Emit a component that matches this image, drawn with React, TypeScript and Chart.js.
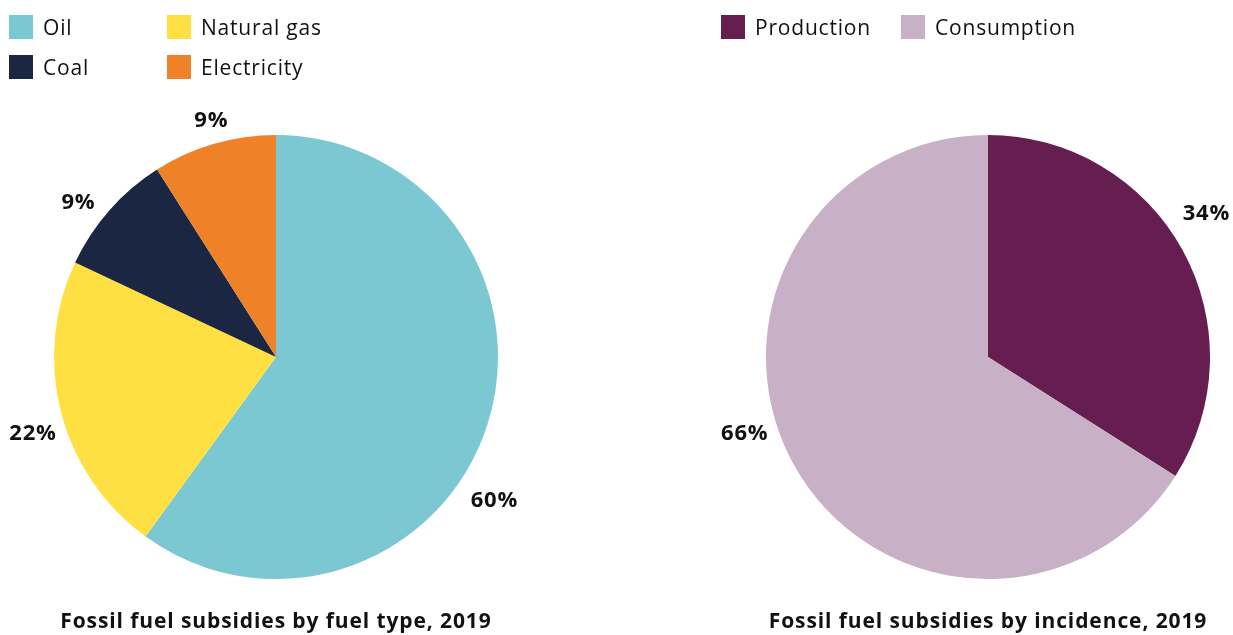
import React, { useEffect, useRef } from "react";
import { Chart, registerables } from "chart.js";

Chart.register(...registerables);

const fuelLabels = ["Oil", "Natural gas", "Coal", "Electricity"];
const fuelValues = [60, 22, 9, 9];
const fuelColors = ["#7BC8D2", "#FFE042", "#1A2642", "#EF8229"];

const incidenceLabels = ["Production", "Consumption"];
const incidenceValues = [34, 66];
const incidenceColors = ["#661D50", "#C8B1C6"];

const fuelTitle = "Fossil fuel subsidies by fuel type, 2019";
const incidenceTitle = "Fossil fuel subsidies by incidence, 2019";

const FONT = "'Open Sans', Lato, sans-serif";

// label placement: angle offset (deg) from slice mid-angle, radius factor
const fuelLabelPlacement = [
  { dAngle: 15.4, rFactor: 1.176 },
  { dAngle: -3.2, rFactor: 1.15 },
  { dAngle: -3.5, rFactor: 1.13 },
  { dAngle: 0.8, rFactor: 1.105 },
];
const incidenceLabelPlacement = [
  { dAngle: -4.6, rFactor: 1.176 },
  { dAngle: 11.4, rFactor: 1.15 },
];

const outsideLabels = {
  id: "outsideLabels",
  afterDatasetsDraw(chart: any, _args: any, opts: any) {
    const ctx = chart.ctx;
    const meta = chart.getDatasetMeta(0);
    const data = chart.data.datasets[0].data as number[];
    ctx.save();
    ctx.font = `bold 22px ${FONT}`;
    try {
      (ctx as any).letterSpacing = "0.8px";
    } catch (e) {}
    ctx.fillStyle = "#111111";
    ctx.textAlign = "center";
    ctx.textBaseline = "middle";
    meta.data.forEach((arc: any, i: number) => {
      const p = arc.getProps(["x", "y", "startAngle", "endAngle", "outerRadius"], true);
      const place = (opts.placement || [])[i] || { dAngle: 0, rFactor: 1.15 };
      const mid = (p.startAngle + p.endAngle) / 2 + (place.dAngle * Math.PI) / 180;
      const r = p.outerRadius * place.rFactor;
      const x = p.x + Math.cos(mid) * r;
      const y = p.y + Math.sin(mid) * r;
      ctx.fillText(`${data[i]}%`, x + 0.4, y);
    });
    ctx.restore();
  },
};

function PieCanvas(props: {
  labels: string[];
  values: number[];
  colors: string[];
  placement: any[];
  padding: { left: number; right: number; top: number; bottom: number };
}) {
  const ref = useRef<HTMLCanvasElement>(null);
  useEffect(() => {
    if (!ref.current) return;
    const chart = new Chart(ref.current, {
      type: "pie",
      data: {
        labels: props.labels,
        datasets: [
          {
            data: props.values,
            backgroundColor: props.colors,
            borderWidth: 0,
          },
        ],
      },
      options: {
        animation: false,
        responsive: false,
        layout: { padding: props.padding },
        plugins: {
          legend: { display: false },
          tooltip: { enabled: false },
          outsideLabels: { placement: props.placement },
        } as any,
      },
      plugins: [outsideLabels],
    });
    return () => chart.destroy();
  }, []);
  return <canvas ref={ref} width={616} height={635} style={{ display: "block" }} />;
}

function Legend(props: { labels: string[]; colors: string[]; colWidth: number[] }) {
  return (
    <div
      style={{
        display: "grid",
        gridTemplateColumns: props.colWidth.map((w) => `${w}px`).join(" "),
        rowGap: 16,
      }}
    >
      {props.labels.map((l, i) => (
        <div key={l} style={{ display: "flex", alignItems: "center", height: 24 }}>
          <div style={{ width: 24, height: 24, background: props.colors[i], marginRight: 10, flex: "none" }} />
          <span style={{ fontSize: 21, letterSpacing: "0.8px", color: "#111", whiteSpace: "nowrap" }}>{l}</span>
        </div>
      ))}
    </div>
  );
}

const titleStyle: React.CSSProperties = {
  position: "absolute",
  top: 606,
  textAlign: "center",
  fontWeight: "bold",
  fontSize: 21,
  letterSpacing: "0.9px",
  color: "#111",
  whiteSpace: "nowrap",
};

export default function App() {
  return (
    <div
      style={{
        position: "fixed",
        left: 0,
        top: 0,
        width: 1233,
        height: 635,
        overflow: "hidden",
        background: "#fff",
        fontFamily: FONT,
      }}
    >
      <div style={{ position: "absolute", left: 0, top: 0 }}>
        <PieCanvas
          labels={fuelLabels}
          values={fuelValues}
          colors={fuelColors}
          placement={fuelLabelPlacement}
          padding={{ left: 54, right: 118, top: 135, bottom: 56 }}
        />
      </div>
      <div style={{ position: "absolute", left: 617, top: 0 }}>
        <PieCanvas
          labels={incidenceLabels}
          values={incidenceValues}
          colors={incidenceColors}
          placement={incidenceLabelPlacement}
          padding={{ left: 149, right: 23, top: 135, bottom: 56 }}
        />
      </div>
      <div style={{ position: "absolute", left: 9, top: 15 }}>
        <Legend labels={fuelLabels} colors={fuelColors} colWidth={[158, 180]} />
      </div>
      <div style={{ position: "absolute", left: 721, top: 15 }}>
        <Legend labels={incidenceLabels} colors={incidenceColors} colWidth={[180, 200]} />
      </div>
      <div style={{ ...titleStyle, left: 0, width: 552 }}>{fuelTitle}</div>
      <div style={{ ...titleStyle, left: 688, width: 600 }}>{incidenceTitle}</div>
    </div>
  );
}
